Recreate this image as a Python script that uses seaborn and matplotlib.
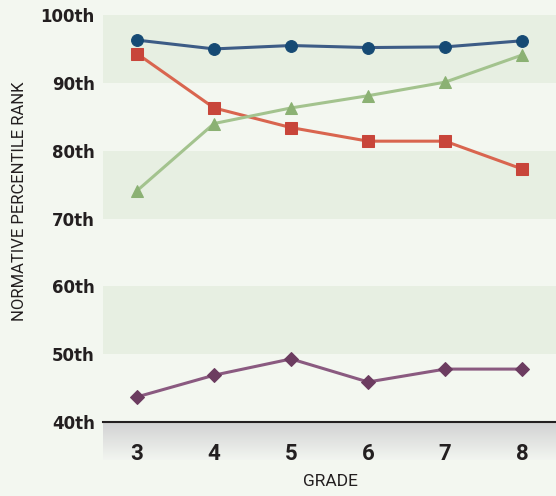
import numpy as np
import pandas as pd
import matplotlib
matplotlib.use("Agg")
import matplotlib.pyplot as plt
import seaborn as sns
from matplotlib.colors import LinearSegmentedColormap

grades = [3, 4, 5, 6, 7, 8]
blue_vals = [96.3, 95.0, 95.5, 95.2, 95.3, 96.2]
red_vals = [94.3, 86.3, 83.4, 81.4, 81.4, 77.3]
green_vals = [74.1, 84.0, 86.3, 88.1, 90.1, 94.1]
purple_vals = [43.7, 46.9, 49.3, 45.9, 47.8, 47.8]
ytick_vals = [40, 50, 60, 70, 80, 90, 100]
ytick_labels = ["40th", "50th", "60th", "70th", "80th", "90th", "100th"]

sns.set_theme(style="white")
narrow = "Roboto"

W, H = 556, 496
fig = plt.figure(figsize=(W / 100, H / 100), dpi=100)
bg = "#f3f7f0"
band = "#e7efe2"
fig.patch.set_facecolor(bg)

left, right, top, bottom = 103, 556, 15, 422

# grey gradient band below axis
bax = fig.add_axes([left / W, 1 - 460 / H, (right - left) / W, (460 - bottom) / H])
grad = np.linspace(0, 1, 100).reshape(-1, 1)
cmap = LinearSegmentedColormap.from_list("g", ["#d2d2d3", "#f2f5f0"])
bax.imshow(grad, aspect="auto", cmap=cmap, extent=[0, 1, 0, 1])
bax.set_axis_off()
bax.set_zorder(1)

ax = fig.add_axes([left / W, 1 - bottom / H, (right - left) / W, (bottom - top) / H])
ax.set_facecolor(bg)
ax.set_zorder(2)

for lo, hi in [(90, 100), (70, 80), (50, 60)]:
    ax.axhspan(lo, hi, color=band, zorder=0, lw=0)

series = [
    (blue_vals, "#3d5c86", "#164a74", "o", 8.5),
    (red_vals, "#d9654f", "#c8453a", "s", 8),
    (green_vals, "#a3c38e", "#8bb173", "^", 9),
    (purple_vals, "#8a5a80", "#6c3c60", "D", 7.5),
]
for vals, lc, mc, mk, ms in series:
    df = pd.DataFrame({"grade": grades, "value": vals})
    sns.lineplot(data=df, x="grade", y="value", ax=ax, color=lc, lw=2.2,
                 marker=mk, markersize=ms, markerfacecolor=mc,
                 markeredgecolor=mc, zorder=3)

ax.set_xlim(2.558, 8.44)
ax.set_ylim(40, 100)
ax.set_yticks(ytick_vals)
ax.set_yticklabels(ytick_labels, fontsize=12, fontweight="heavy", color="#231f20")
ax.set_xticks(grades)
ax.set_xticklabels([str(g) for g in grades], fontsize=16, fontweight="bold",
                   family=narrow, color="#231f20")
ax.tick_params(axis="x", length=0, pad=15)
ax.tick_params(axis="y", length=0, pad=6)
for s in ["top", "right", "left"]:
    ax.spines[s].set_visible(False)
ax.spines["bottom"].set_color("#231f20")
ax.spines["bottom"].set_linewidth(1.5)
ax.spines["bottom"].set_zorder(5)
ax.set_xlabel("")
ax.set_ylabel("")

fig.text(20 / W, 1 - 201 / H, "NORMATIVE PERCENTILE RANK", rotation=90,
         ha="center", va="center", fontsize=12, family=narrow,
         color="#231f20")
fig.text(330 / W, 1 - 482 / H, "GRADE", ha="center", va="center",
         fontsize=12.5, family=narrow, color="#231f20")

fig.savefig("out.png", dpi=100, facecolor=bg)
